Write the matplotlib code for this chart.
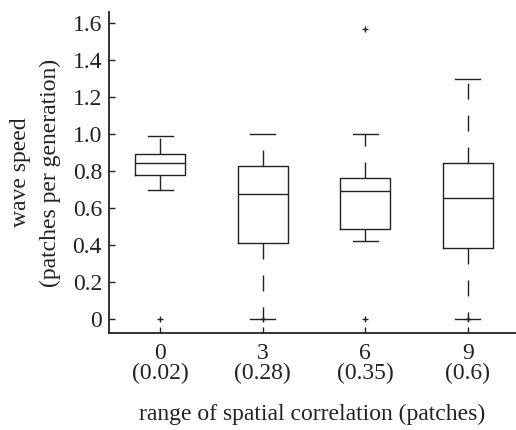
import matplotlib
matplotlib.use('Agg')
import matplotlib.pyplot as plt

# box summaries
labels = ['0\n(0.02)', '3\n(0.28)', '6\n(0.35)', '9\n(0.6)']
whislo = [0.70, 0.0, 0.42, 0.0]
q1 = [0.78, 0.41, 0.485, 0.385]
med = [0.845, 0.675, 0.69, 0.655]
q3 = [0.895, 0.83, 0.76, 0.845]
whishi = [0.99, 1.0, 1.0, 1.3]
fliers = [[0.0], [0.0], [1.57, 0.0], [0.0]]

yticks = [0, 0.2, 0.4, 0.6, 0.8, 1.0, 1.2, 1.4, 1.6]
yticklabels = ['0', '0.2', '0.4', '0.6', '0.8', '1.0', '1.2', '1.4', '1.6']

plt.rcParams['font.family'] = 'Liberation Serif'
plt.rcParams['font.size'] = 17
ink = '#222222'

stats = []
for i in range(len(labels)):
    stats.append(dict(med=med[i], q1=q1[i], q3=q3[i], whislo=whislo[i],
                      whishi=whishi[i], fliers=fliers[i], label=labels[i]))

fig = plt.figure(figsize=(5.16, 4.30), dpi=100)
ax = fig.add_axes([0.211, 0.225, 0.789, 0.747])

ax.bxp(stats, positions=[1, 2, 3, 4], widths=0.49, showfliers=True,
       boxprops=dict(color=ink, linewidth=1.0),
       medianprops=dict(color=ink, linewidth=1.0),
       whiskerprops=dict(color=ink, linewidth=1.0, linestyle=(0, (11.5, 11.5))),
       capprops=dict(color=ink, linewidth=1.0),
       flierprops=dict(marker='+', markeredgecolor=ink, markersize=5,
                       markeredgewidth=1.0))

ax.set_xlim(0.5, 4.47)
ax.set_ylim(-0.077, 1.66)
ax.set_yticks(yticks)
ax.set_yticklabels(yticklabels)
ax.set_xticks([1, 2, 3, 4])
ax.set_xticklabels(labels)
for t in ax.get_xticklabels():
    t.set_linespacing(0.94)

ax.spines['top'].set_visible(False)
ax.spines['right'].set_visible(False)
ax.spines['left'].set_linewidth(1.3)
ax.spines['bottom'].set_linewidth(1.3)
ax.spines['left'].set_color(ink)
ax.spines['bottom'].set_color(ink)
ax.tick_params(direction='in', length=4, width=1.0, colors=ink,
               labelsize=17, pad=5)
ax.tick_params(axis='x', pad=7)

ax.set_ylabel('wave speed\n(patches per generation)', fontsize=17,
              color=ink, linespacing=1.55, labelpad=8)
ax.set_xlabel('range of spatial correlation (patches)', fontsize=17,
              color=ink, labelpad=14)

fig.savefig('out.png', dpi=100)
